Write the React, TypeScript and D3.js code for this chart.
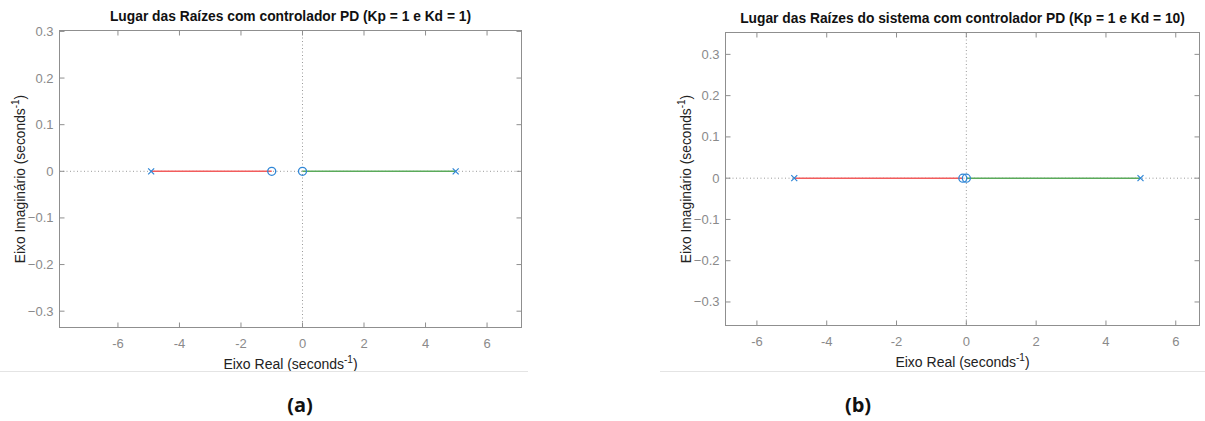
import React from 'react';
import * as d3 from 'd3';

// chart data
const titleA = 'Lugar das Raízes com controlador PD (Kp = 1 e Kd = 1)';
const titleB = 'Lugar das Raízes do sistema com controlador PD (Kp = 1 e Kd = 10)';
const captions = ['(a)', '(b)'];

const polesA = [-4.92, 4.98];
const zerosA = [-1, 0];
const polesB = [-4.93, 4.99];
const zerosB = [-0.1, 0];

// root locus branches: [start pole, end zero]
const redBranchA = [-4.92, -1];
const greenBranchA = [0, 4.98];
const redBranchB = [-4.93, -0.1];
const greenBranchB = [0, 4.99];

const xTicks = [-6, -4, -2, 0, 2, 4, 6];
const yTicks = [-0.3, -0.2, -0.1, 0, 0.1, 0.2, 0.3];

const xDomainA = [-7.9, 7.12];
const yDomainA = [-0.335, 0.302];
const xDomainB = [-6.9, 6.68];
const yDomainB = [-0.357, 0.353];

const FONT = '"Liberation Sans", Arial, Helvetica, sans-serif';
const TICK_GRAY = '#8a8a8a';
const BOX_GRAY = '#8f8f8f';
const RED = '#f25c5c';
const GREEN = '#5aaa5a';
const BLUE = '#2f86d6';

type PanelProps = {
  title: string;
  caption: string;
  poles: number[];
  zeros: number[];
  red: number[];
  green: number[];
  xDomain: number[];
  yDomain: number[];
  box: { left: number; right: number; top: number; bottom: number };
  captionX: number;
  sepX: [number, number];
};

const Panel = ({ title, caption, poles, zeros, red, green, xDomain, yDomain, box, captionX, sepX }: PanelProps) => {
  const x = d3.scaleLinear().domain(xDomain).range([box.left, box.right]);
  const y = d3.scaleLinear().domain(yDomain).range([box.bottom, box.top]);
  const cx = (box.left + box.right) / 2;
  const cy = (box.top + box.bottom) / 2;
  const tick = 5;
  const line = d3.line<number>().x(d => x(d)).y(() => y(0));

  return (
    <g>
      {/* dotted axes through origin */}
      <line x1={box.left} x2={box.right} y1={y(0)} y2={y(0)} stroke="#9a9a9a" strokeWidth={1} strokeDasharray="1,2.5" />
      <line x1={x(0)} x2={x(0)} y1={box.top} y2={box.bottom} stroke="#9a9a9a" strokeWidth={1} strokeDasharray="1,2.5" />

      {/* box */}
      <rect x={box.left} y={box.top} width={box.right - box.left} height={box.bottom - box.top} fill="none" stroke={BOX_GRAY} strokeWidth={1} />

      {xTicks.map(t => (
        <g key={'x' + t}>
          <line x1={x(t)} x2={x(t)} y1={box.bottom} y2={box.bottom - tick} stroke={BOX_GRAY} />
          <line x1={x(t)} x2={x(t)} y1={box.top} y2={box.top + tick} stroke={BOX_GRAY} />
          <text x={x(t)} y={box.bottom + 20} textAnchor="middle" fontSize={13} fill={TICK_GRAY} fontFamily={FONT}>{t}</text>
        </g>
      ))}
      {yTicks.map(t => (
        <g key={'y' + t}>
          <line x1={box.left} x2={box.left + tick} y1={y(t)} y2={y(t)} stroke={BOX_GRAY} />
          <line x1={box.right} x2={box.right - tick} y1={y(t)} y2={y(t)} stroke={BOX_GRAY} />
          <text x={box.left - 6} y={y(t) + 4.5} textAnchor="end" fontSize={13} fill={TICK_GRAY} fontFamily={FONT}>{t === 0 ? '0' : d3.format('.1f')(t)}</text>
        </g>
      ))}

      {/* branches */}
      <path d={line(red) || ''} stroke={RED} strokeWidth={1.6} fill="none" />
      <path d={line(green) || ''} stroke={GREEN} strokeWidth={1.6} fill="none" />

      {/* poles and zeros */}
      {poles.map((p, i) => (
        <path key={'p' + i} d={`M${x(p) - 3},${y(0) - 3}L${x(p) + 3},${y(0) + 3}M${x(p) - 3},${y(0) + 3}L${x(p) + 3},${y(0) - 3}`} stroke={BLUE} strokeWidth={1.2} />
      ))}
      {zeros.map((z, i) => (
        <circle key={'z' + i} cx={x(z)} cy={y(0)} r={4} fill="none" stroke={BLUE} strokeWidth={1.3} />
      ))}

      {/* labels */}
      <text x={cx} y={box.top - 10} textAnchor="middle" fontSize={13.8} fontWeight="bold" fill="#111" fontFamily={FONT}>{title}</text>
      <text x={cx} y={box.bottom + 41} textAnchor="middle" fontSize={14} fill="#222" fontFamily={FONT}>
        Eixo Real (seconds<tspan fontSize={10} dy={-6}>-1</tspan><tspan dy={6}>)</tspan>
      </text>
      <text transform={`translate(${box.left - 35},${cy}) rotate(-90)`} textAnchor="middle" fontSize={13.8} fill="#222" fontFamily={FONT}>
        Eixo Imaginário (seconds<tspan fontSize={10} dy={-6}>-1</tspan><tspan dy={6}>)</tspan>
      </text>

      <line x1={sepX[0]} x2={sepX[1]} y1={371.5} y2={371.5} stroke="#e4e4e4" strokeWidth={1} />
      <text x={captionX} y={412} textAnchor="middle" fontSize={20} fontWeight="bold" fill="#111" fontFamily='"Open Sans", "Noto Sans", sans-serif'>{caption}</text>
    </g>
  );
};

export default function App() {
  return (
    <svg width={1205} height={421} style={{ position: 'absolute', left: 0, top: 0, background: '#fff' }}>
      <rect width={1205} height={421} fill="#fff" />
      <Panel
        title={titleA}
        caption={captions[0]}
        poles={polesA}
        zeros={zerosA}
        red={redBranchA}
        green={greenBranchA}
        xDomain={xDomainA}
        yDomain={yDomainA}
        box={{ left: 59.5, right: 521.5, top: 30.5, bottom: 327.5 }}
        captionX={300}
        sepX={[0, 528]}
      />
      <Panel
        title={titleB}
        caption={captions[1]}
        poles={polesB}
        zeros={zerosB}
        red={redBranchB}
        green={greenBranchB}
        xDomain={xDomainB}
        yDomain={yDomainB}
        box={{ left: 725.5, right: 1199.5, top: 32.5, bottom: 325.5 }}
        captionX={858}
        sepX={[660, 1205]}
      />
    </svg>
  );
}
